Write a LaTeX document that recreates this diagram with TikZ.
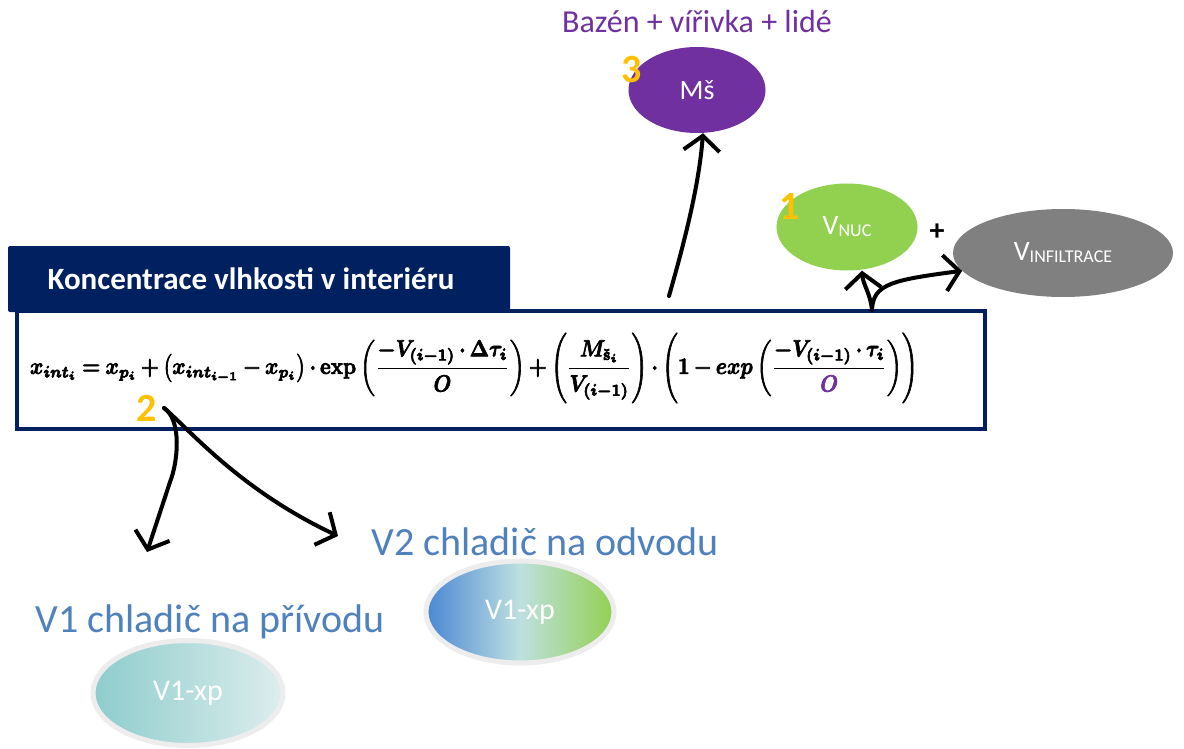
\documentclass[tikz,border=0pt]{standalone}
\usepackage[no-math]{fontspec}
\setmainfont{Carlito}
\usepackage{amsmath,amssymb}
\usepackage{graphicx}
\usetikzlibrary{shapes.geometric,arrows.meta}
\definecolor{navy}{HTML}{002060}
\definecolor{mspurple}{HTML}{7030A0}
\definecolor{msgreen}{HTML}{92D050}
\definecolor{msgray}{HTML}{808080}
\definecolor{txtblue}{HTML}{4F81BD}
\definecolor{numgold}{HTML}{FFC000}
\definecolor{gblue}{HTML}{4A86D4}
\definecolor{gmid}{HTML}{BEE0E0}
\definecolor{gteal}{HTML}{8ECCCC}
\definecolor{glight}{HTML}{DDEDED}
\newcommand\fsz[1]{\fontsize{#1}{#1}\selectfont}
\newsavebox\formulasave
\AtBeginDocument{\sbox\formulasave{\boldmath\scalebox{1}[1.15]{\resizebox{888pt}{!}{\special{pdf:literal direct 2 Tr 0.3 w}\boldmath$\displaystyle\medmuskip=3mu\thickmuskip=4mu
x_{int_i} = x_{p_i} + \bigl(x_{int_{i-1}} - x_{p_i}\bigr)\cdot \mathbf{exp}\left(\frac{-V_{(i-1)}\cdot\Delta\tau_i}{O}\right) + \left(\frac{M_{\check{\mathrm{s}}_i}}{V_{(i-1)}}\right)\cdot\Biggl(1 - exp\left(\frac{-V_{(i-1)}\cdot\tau_i}{\textcolor{mspurple}{O}}\right)\Biggr)$\special{pdf:literal direct 0 Tr}}}}}
\begin{document}
\begin{tikzpicture}[x=1pt,y=-1pt,
  ell/.style={ellipse, inner sep=0pt, text=white},
  numlbl/.style={inner sep=0pt, text=numgold, font=\fsz{40}\bfseries},
  arr/.style={line width=4pt, line cap=round, line join=round, -{Straight Barb[length=15pt,width=36pt]}},
  bluelbl/.style={anchor=base, inner sep=0pt, text=txtblue, font=\fsz{40}},
  xpell/.style={ellipse, inner sep=0pt, draw=black!7, line width=5pt, text=white, font=\fsz{30}}
]
\useasboundingbox (0,0) rectangle (1184,749);
\fill[white] (0,0) rectangle (1184,749);

% frame and formula
\node[draw=navy, line width=4pt, minimum width=968pt, minimum height=118pt, inner sep=0pt] (frame) at (500.5,370) {};
\node[fill=navy, rounded corners=2pt, minimum width=502pt, minimum height=66pt, text=white, font=\fsz{31}\bfseries, inner sep=0pt] (title) at (259,279) {Koncentrace vlhkosti v interiéru\hspace*{16pt}};
\node[inner sep=0pt] (formula) at (474,368) {\usebox\formulasave};

% top: Ms
\node[anchor=base, inner sep=0pt, text=mspurple, font=\fsz{32}] (baz) at (697,33) {Bazén + vířivka + lidé};
\node[ell, fill=mspurple, minimum width=137pt, minimum height=86pt, font=\fsz{28}] (ms) at (697,90) {Mš};
\node[numlbl] (n3) at (632,70) {3};

% right: V_NUC + V_INFILTRACE
\node[ell, fill=msgreen, minimum width=141pt, minimum height=87pt, font=\fsz{28}] (vnuc) at (847,227) {V\raisebox{-2pt}{\fsz{18}NUC}};
\node[numlbl] (n1) at (790,207) {1};
\node[inner sep=0pt, font=\fsz{30}\bfseries] (plus) at (937,232) {+};
\node[ell, fill=msgray, minimum width=220pt, minimum height=88pt, font=\fsz{28}] (vinf) at (1063,253) {V\raisebox{-2pt}{\fsz{18}INFILTRACE}};

% bottom
\node[numlbl] (n2) at (147,408) {2};
\node[bluelbl] (v1lbl) at (210,632) {V1 chladič na přívodu};
\node[bluelbl] (v2lbl) at (545,555) {V2 chladič na odvodu};
\node[xpell, left color=gteal, right color=glight, minimum width=190pt, minimum height=105pt] (xp1) at (188,693) {V1-xp};
\node[xpell, left color=gblue, right color=msgreen, middle color=gmid, minimum width=188pt, minimum height=102pt] (xp2) at (520,612) {V1-xp};

% connectors
\coordinate (m0) at (669,296);
\draw[arr] (m0) .. controls (685,240) and (699,185) .. ([xshift=6pt]ms.south);
\coordinate (u0) at (872,310);
\draw[arr] (u0) .. controls (870,292) and (863,285) .. ([xshift=15pt]vnuc.south);
\draw[arr] (u0) .. controls (873,284) and (892,280) .. (vinf.190);
\coordinate (t0) at (164,408);
\coordinate (d1) at (147,552);
\coordinate (d2) at (338,536);
\draw[arr] (t0) .. controls (182,420) and (178,462) .. (170,482) -- (d1);
\draw[arr] (t0) .. controls (190,430) and (240,490) .. (d2);
\end{tikzpicture}
\end{document}
